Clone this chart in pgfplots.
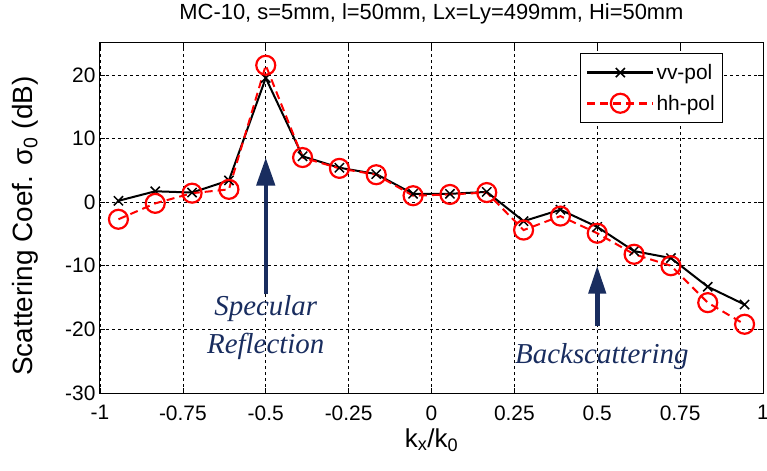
\documentclass[border=0pt]{standalone}
\usepackage{pgfplots}
\pgfplotsset{compat=1.18}
\usepackage{fontspec}
\setmainfont{Liberation Sans}
\newfontfamily\annfont{Liberation Serif}
\usetikzlibrary{arrows.meta}
\definecolor{navy}{RGB}{25,45,95}
\begin{document}
\begin{tikzpicture}
\begin{axis}[
  scale only axis, width=663bp, height=350bp,
  xmin=-1, xmax=1, ymin=-30, ymax=25,
  xtick={-1,-0.75,-0.5,-0.25,0,0.25,0.5,0.75,1},
  xticklabels={-1,-0.75,-0.5,-0.25,0,0.25,0.5,0.75,1},
  ytick={-30,-20,-10,0,10,20},
  yticklabels={-30,-20,-10,0,10,20},
  tick align=inside, tick pos=both, major tick length=5bp,
  tick style={black, line width=0.6bp},
  grid=major, grid style={black, line width=0.6bp, dash pattern=on 3bp off 3bp},
  axis line style={black, line width=1bp},
  ticklabel style={font=\fontsize{21}{24}\selectfont},
  xticklabel style={yshift=-9bp},
  yticklabel style={xshift=-1bp},
  title={MC-10, s=5mm, l=50mm, Lx=Ly=499mm, Hi=50mm},
  title style={font=\fontsize{22}{25}\selectfont, at={(rel axis cs:0.5,1.066)}, anchor=center},
  xlabel={k\textsubscript{x}/k\textsubscript{0}},
  xlabel style={font=\fontsize{26}{30}\selectfont, at={(rel axis cs:0.5,-0.134)}, anchor=center},
  ylabel={Scattering Coef. σ\textsubscript{0} (dB)},
  ylabel style={font=\fontsize{28}{31}\selectfont, at={(rel axis cs:-0.113,0.477)}, anchor=center},
  legend style={at={(axis description cs:0.94,0.972)}, anchor=north east,
    draw=black, line width=1bp, fill=white, font=\fontsize{21}{24}\selectfont,
    inner xsep=6bp, inner ysep=9bp, row sep=10bp, legend cell align=left},
  legend image code/.code={\draw[mark repeat=2,mark phase=2, line width=2.5bp] plot coordinates {(0bp,0bp) (33bp,0bp) (66bp,0bp)};},
]
\addplot[black, line width=2bp, mark=x, mark size=6.5bp, mark options={solid, line width=1.5bp}] coordinates {
(-0.9444,0.2) (-0.8333,1.7) (-0.7222,1.5) (-0.6111,3.4) (-0.5,19.5) (-0.3889,7.2)
(-0.2778,5.4) (-0.1667,4.4) (-0.0556,1.3) (0.0556,1.3) (0.1667,1.6) (0.2778,-3.0)
(0.3889,-1.2) (0.5,-3.9) (0.6111,-7.7) (0.7222,-8.8) (0.8333,-13.3) (0.9444,-16.1)};
\addlegendentry{vv-pol}
\addplot[red, line width=2bp, dash pattern=on 8bp off 5bp, mark=o, mark size=9.5bp, mark options={solid, line width=2.2bp}] coordinates {
(-0.9444,-2.7) (-0.8333,-0.2) (-0.7222,1.4) (-0.6111,2.0) (-0.5,21.5) (-0.3889,7.0)
(-0.2778,5.3) (-0.1667,4.3) (-0.0556,1.0) (0.0556,1.2) (0.1667,1.5) (0.2778,-4.4)
(0.3889,-2.2) (0.5,-4.9) (0.6111,-8.2) (0.7222,-10.0) (0.8333,-15.8) (0.9444,-19.2)};
\addlegendentry{hh-pol}
\draw[navy, line width=4.5bp, -{Triangle[width=18bp,length=28bp]}] (axis cs:-0.5,-14.5) -- (axis cs:-0.5,7);
\draw[navy, line width=4.5bp, -{Triangle[width=17bp,length=28bp]}] (axis cs:0.5,-19.5) -- (axis cs:0.5,-10);
\node[navy, font=\annfont\itshape\fontsize{29}{32}\selectfont] at (axis cs:-0.5,-16.8) {Specular};
\node[navy, font=\annfont\itshape\fontsize{29}{32}\selectfont] at (axis cs:-0.5,-22.6) {Reflection};
\node[navy, font=\annfont\itshape\fontsize{29}{32}\selectfont] at (axis cs:0.514,-24.2) {Backscattering};
\end{axis}
\pgfresetboundingbox
\path ([xshift=-100bp,yshift=-78bp]current axis.south west) rectangle ([xshift=4bp,yshift=43bp]current axis.north east);
\end{tikzpicture}
\end{document}
